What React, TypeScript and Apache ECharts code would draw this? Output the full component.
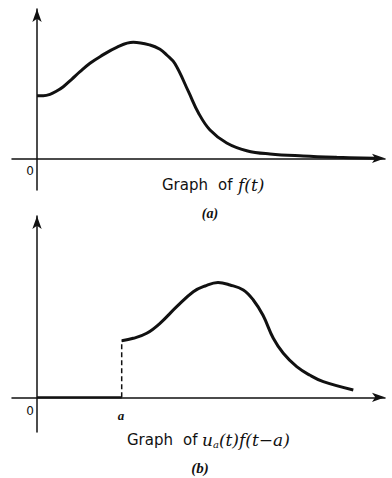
import React, { useEffect, useRef } from "react";
import * as echarts from "echarts";

// Curve (a): f(t)
const fT = [0, 0.63, 1.3, 1.97, 2.63, 3.47, 4.3, 5.3, 6.3, 7.97, 9.63, 11.3, 12.3, 12.97, 13.8, 15.15, 16.15, 17.3, 18.97, 20.97, 23.3, 26.6, 29.97, 33.8];
const fValues = [6.26, 6.26, 6.4, 6.73, 7.16, 7.9, 8.66, 9.5, 10.16, 11.1, 11.6, 11.33, 10.9, 10.33, 9.45, 6.66, 4.53, 2.83, 1.53, 0.76, 0.43, 0.23, 0.1, 0.0];

// Curve (b): u_a(t) f(t - a)
const aValue = 8.47;
const gT = [8.47, 9.63, 10.97, 12.3, 13.97, 15.63, 16.8, 18.1, 19.3, 20.63, 21.63, 22.6, 23.63, 24.63, 25.97, 27.3, 28.63, 31.63];
const gValues = [5.66, 5.9, 6.4, 7.4, 9.06, 10.56, 11.13, 11.48, 11.23, 10.73, 9.73, 8.2, 5.9, 4.4, 3.06, 2.2, 1.56, 0.73];

const INK = "#111";

export default function App() {
  const ref = useRef<HTMLDivElement>(null);
  useEffect(() => {
    if (!ref.current) return;
    const chart = echarts.init(ref.current, undefined, { renderer: "svg" });
    const axisLine = {
      show: true,
      onZero: true,
      symbol: ["none", "arrow"],
      symbolSize: [7, 13],
      lineStyle: { color: INK, width: 1.5 },
    };
    const mkX = (i: number) => ({
      type: "value",
      gridIndex: i,
      min: -2.5,
      max: 34.8,
      axisLine,
      axisTick: { show: false },
      axisLabel: { show: false },
      splitLine: { show: false },
    });
    const mkY = (i: number, min: number, max: number) => ({
      type: "value",
      gridIndex: i,
      min,
      max,
      axisLine,
      axisTick: { show: false },
      axisLabel: { show: false },
      splitLine: { show: false },
    });
    const sans = "'DejaVu Sans', 'Liberation Sans', sans-serif";
    const mserif = "'DejaVu Serif', 'Liberation Serif', serif";
    const serif = "'Liberation Serif', 'Times New Roman', serif";
    const rich = {
      i: { fontFamily: mserif, fontStyle: "italic", fontSize: 17, fill: INK },
      sub: { fontFamily: mserif, fontStyle: "italic", fontSize: 10, fill: INK, padding: [9, 0, 0, 0] },
    };
    const word = (text: string, x: number, y: number) => ({
      type: "text",
      x,
      y,
      style: { text, fontFamily: sans, fontSize: 15, fill: INK, align: "left", verticalAlign: "middle" },
    });
    const math = (text: string, x: number, y: number) => ({
      type: "text",
      x,
      y,
      style: { text, rich, fontFamily: mserif, fontStyle: "italic", fontSize: 17, fill: INK, align: "left", verticalAlign: "middle" },
    });
    const italic = (text: string, x: number, y: number, size: number, weight = "normal") => ({
      type: "text",
      x,
      y,
      style: { text, fontFamily: serif, fontStyle: "italic", fontWeight: weight, fontSize: size, fill: INK, align: "center", verticalAlign: "middle" },
    });
    const zero = (y: number) => ({
      type: "text",
      x: 30,
      y,
      style: { text: "0", fontFamily: sans, fontSize: 12, fill: INK, align: "center", verticalAlign: "middle" },
    });
    chart.setOption({
      animation: false,
      backgroundColor: "#fff",
      grid: [
        { left: 12, right: 7, top: 9, height: 181 },
        { left: 12, right: 7, top: 216, height: 216 },
      ],
      xAxis: [mkX(0), mkX(1)],
      yAxis: [mkY(0, -3.17, 14.93), mkY(1, -3.47, 18.13)],
      series: [
        {
          type: "line",
          xAxisIndex: 0,
          yAxisIndex: 0,
          data: fT.map((t, k) => [t, fValues[k]]),
          smooth: 0.4,
          symbol: "none",
          lineStyle: { color: INK, width: 3 },
        },
        {
          type: "line",
          xAxisIndex: 1,
          yAxisIndex: 1,
          data: [
            [0, 0],
            [aValue, 0],
          ],
          symbol: "none",
          lineStyle: { color: INK, width: 2.2 },
        },
        {
          type: "line",
          xAxisIndex: 1,
          yAxisIndex: 1,
          data: [
            [aValue, 0],
            [aValue, gValues[0]],
          ],
          symbol: "none",
          lineStyle: { color: INK, width: 1.5, type: [5, 3] },
        },
        {
          type: "line",
          xAxisIndex: 1,
          yAxisIndex: 1,
          data: gT.map((t, k) => [t, gValues[k]]),
          smooth: 0.4,
          symbol: "none",
          lineStyle: { color: INK, width: 3 },
        },
      ],
      graphic: [
        zero(171),
        word("Graph", 162, 185),
        word("of", 218, 185),
        math("f(t)", 238, 185),
        italic("(a)", 210, 213, 14, "bold"),
        zero(411),
        italic("a", 121, 415, 13, "bold"),
        word("Graph", 127, 440),
        word("of", 183, 440),
        math("{i|u}{sub|a}{i|(t)f(t−a)}", 202, 440),
        italic("(b)", 200, 468, 15, "bold"),
      ],
    });
    return () => chart.dispose();
  }, []);
  return <div ref={ref} style={{ position: "fixed", left: 0, top: 0, width: 392, height: 478 }} />;
}
